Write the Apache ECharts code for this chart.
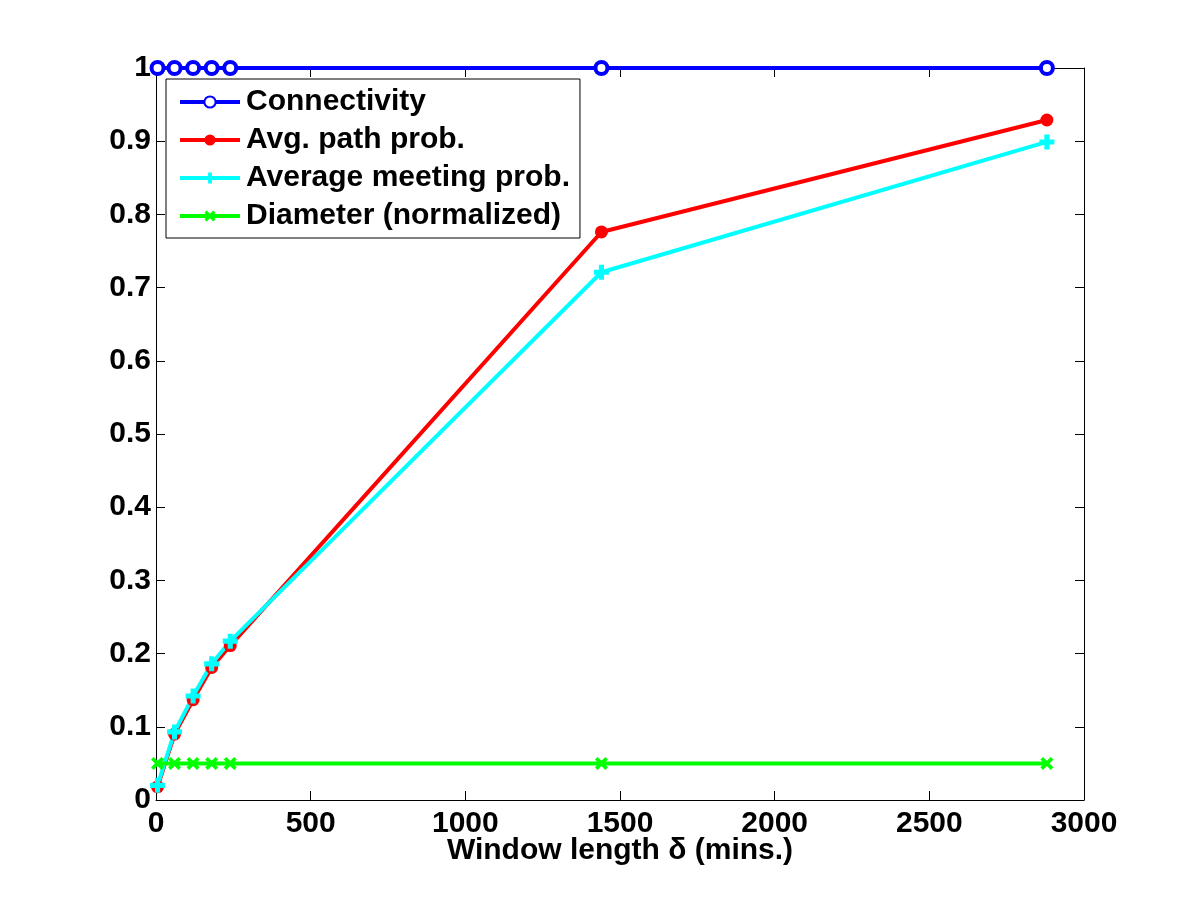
<!DOCTYPE html>
<html>
<head>
<meta charset="utf-8">
<script src="https://cdn.jsdelivr.net/npm/echarts@6/dist/echarts.min.js"></script>
<style>
  html, body { margin: 0; padding: 0; background: #fff; }
  #main { width: 1200px; height: 900px; }
</style>
</head>
<body>
<div id="main"></div>
<script>
// window lengths (mins.)
const windowLen = [5, 60, 120, 180, 240, 1440, 2880];
const connectivity = [1, 1, 1, 1, 1, 1, 1];
const avgPathProb = [0.018, 0.09, 0.137, 0.181, 0.211, 0.776, 0.929];
const avgMeetingProb = [0.02, 0.093, 0.142, 0.186, 0.217, 0.721, 0.899];
const diameterNorm = [0.05, 0.05, 0.05, 0.05, 0.05, 0.05, 0.05];
const xTicks = [0, 500, 1000, 1500, 2000, 2500, 3000];
const yTicks = [0, 0.1, 0.2, 0.3, 0.4, 0.5, 0.6, 0.7, 0.8, 0.9, 1];

const font = "Liberation Sans";
const plusPath = "path://M3.3,0H6.7V3.3H10V6.7H6.7V10H3.3V6.7H0V3.3H3.3Z";
const crossPath = "path://M2,0L5,3L8,0L10,2L7,5L10,8L8,10L5,7L2,10L0,8L3,5L0,2Z";

function pairs(ys) {
  return windowLen.map((x, i) => [x, ys[i]]);
}

// hollow=true draws a white-filled ring like matlab's 'o' marker
function mkSeries(name, ys, color, symbol, size, hollow) {
  return {
    name: name,
    type: "line",
    data: pairs(ys),
    symbol: symbol,
    symbolSize: size,
    showAllSymbol: true,
    lineStyle: { color: color, width: 4 },
    itemStyle: hollow
      ? { color: "#fff", borderColor: color, borderWidth: 4 }
      : { color: color, borderWidth: 0 },
    emphasis: { disabled: true },
    animation: false,
  };
}

const axisLineStyle = { show: true, onZero: false, lineStyle: { color: "#000", width: 1 } };
const tickStyle = { show: true, inside: true, length: 9, lineStyle: { color: "#000" } };
const labelFont = { fontFamily: font, fontWeight: "bold", fontSize: 30, color: "#000" };

let myChart = echarts.init(document.getElementById("main"));
let option = {
  backgroundColor: "#fff",
  animation: false,
  grid: { left: 156, right: 116, top: 68, bottom: 100 },
  legend: {
    left: 166,
    top: 79,
    orient: "vertical",
    backgroundColor: "#fff",
    borderColor: "#000",
    borderWidth: 1,
    padding: [8, 10, 7, 12],
    itemGap: 8,
    itemWidth: 60,
    itemHeight: 14,
    lineStyle: { width: 4 },
    textStyle: Object.assign({ padding: [0, 0, 0, 1] }, labelFont),
    data: ["Connectivity", "Avg. path prob.", "Average meeting prob.", "Diameter (normalized)"],
  },
  xAxis: [
    {
      type: "value",
      min: 0,
      max: 3000,
      interval: 500,
      name: "Window length \u03b4 (mins.)",
      nameLocation: "middle",
      nameGap: 36,
      nameMoveOverlap: false,
      nameTextStyle: labelFont,
      axisLine: axisLineStyle,
      axisTick: tickStyle,
      splitLine: { show: false },
      axisLabel: Object.assign({ margin: 9, formatter: (v) => String(v) }, labelFont),
    },
    {
      type: "value",
      position: "top",
      min: 0,
      max: 3000,
      interval: 500,
      axisLine: axisLineStyle,
      axisTick: tickStyle,
      splitLine: { show: false },
      axisLabel: { show: false },
    },
  ],
  yAxis: [
    {
      type: "value",
      min: 0,
      max: 1,
      interval: 0.1,
      axisLine: axisLineStyle,
      axisTick: tickStyle,
      splitLine: { show: false },
      axisLabel: Object.assign({ margin: 5, formatter: (v) => String(Math.round(v * 10) / 10) }, labelFont),
    },
    {
      type: "value",
      position: "right",
      min: 0,
      max: 1,
      interval: 0.1,
      axisLine: axisLineStyle,
      axisTick: tickStyle,
      splitLine: { show: false },
      axisLabel: { show: false },
    },
  ],
  series: [
    mkSeries("Connectivity", connectivity, "#0000ff", "circle", 12, true),
    mkSeries("Avg. path prob.", avgPathProb, "#ff0000", "circle", 13, false),
    mkSeries("Average meeting prob.", avgMeetingProb, "#00ffff", plusPath, 15, false),
    mkSeries("Diameter (normalized)", diameterNorm, "#00ff00", crossPath, 13, false),
  ],
};
myChart.setOption(option);
</script>
</body>
</html>
